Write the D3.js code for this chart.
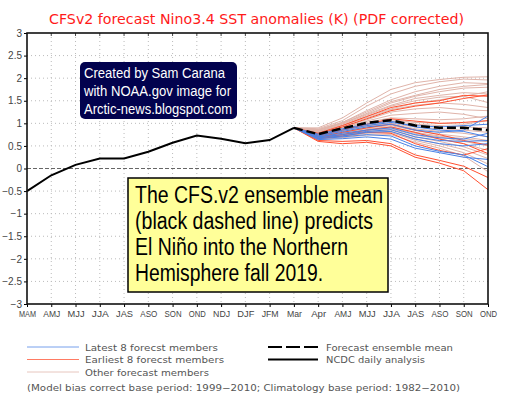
<!DOCTYPE html>
<html>
<head>
<meta charset="utf-8">
<script src="https://cdn.jsdelivr.net/npm/d3@7"></script>
<style>
  body { margin: 0; background: #fff; }
  svg { display: block; }
  text { font-family: "DejaVu Sans", "Liberation Sans", sans-serif; }
</style>
</head>
<body>
<div id="chart"></div>
<script>
// season labels along the bottom axis
var seasons = ["MAM", "AMJ", "MJJ", "JJA", "JAS", "ASO", "SON", "OND", "NDJ", "DJF",
               "JFM", "Mar", "Apr", "AMJ", "MJJ", "JJA", "JAS", "ASO", "SON", "OND"];
var yTicks = [-3, -2.5, -2, -1.5, -1, -0.5, 0, 0.5, 1, 1.5, 2, 2.5, 3];

// NCDC daily analysis, MAM .. Mar
var observed = [-0.5, -0.15, 0.08, 0.22, 0.22, 0.37, 0.57, 0.73, 0.66, 0.56, 0.63, 0.9];

// forecast values Apr .. OND (start from last observed)
var ensembleMean = [0.76, 0.89, 1.01, 1.07, 0.95, 0.9, 0.9, 0.85];

var latestMembers = [
  [0.72, 0.82, 0.92, 0.98, 0.85, 0.80, 0.85, 1.16],
  [0.70, 0.78, 0.85, 0.90, 0.75, 0.68, 0.65, 0.78],
  [0.68, 0.72, 0.80, 0.82, 0.65, 0.55, 0.50, 0.55],
  [0.66, 0.70, 0.75, 0.72, 0.50, 0.38, 0.30, 0.04],
  [0.74, 0.85, 0.95, 1.02, 0.95, 0.92, 0.95, 0.98],
  [0.64, 0.66, 0.70, 0.65, 0.45, 0.35, 0.25, 0.20],
  [0.70, 0.75, 0.82, 0.86, 0.70, 0.62, 0.60, 0.62],
  [0.76, 0.88, 0.98, 1.05, 0.92, 0.85, 0.82, 0.70]
];

var earliestMembers = [
  [0.78, 0.95, 1.15, 1.35, 1.45, 1.50, 1.62, 1.60],
  [0.76, 0.92, 1.10, 1.28, 1.38, 1.45, 1.55, 1.63],
  [0.62, 0.60, 0.62, 0.55, 0.30, 0.18, 0.05, -0.20],
  [0.60, 0.55, 0.58, 0.50, 0.25, 0.12, -0.05, -0.47],
  [0.66, 0.72, 0.80, 0.78, 0.55, 0.40, 0.30, 0.44],
  [0.68, 0.75, 0.85, 0.92, 0.80, 0.65, 0.55, 0.33],
  [0.72, 0.85, 0.98, 1.10, 1.05, 1.00, 1.02, 1.06],
  [0.70, 0.80, 0.90, 0.98, 0.85, 0.75, 0.62, 0.52]
];

var otherMembers = [
  [0.90, 1.12, 1.45, 1.75, 1.90, 1.97, 2.02, 2.03],
  [0.88, 1.06, 1.38, 1.65, 1.82, 1.92, 1.98, 1.96],
  [0.86, 1.02, 1.28, 1.52, 1.70, 1.82, 1.90, 1.88],
  [0.84, 1.00, 1.22, 1.45, 1.60, 1.70, 1.78, 1.80],
  [0.82, 0.98, 1.18, 1.38, 1.50, 1.58, 1.60, 1.46],
  [0.80, 0.95, 1.12, 1.30, 1.40, 1.45, 1.42, 1.35],
  [0.80, 0.92, 1.08, 1.25, 1.32, 1.35, 1.30, 1.28],
  [0.78, 0.90, 1.05, 1.18, 1.22, 1.25, 1.20, 1.10],
  [0.78, 0.88, 1.02, 1.12, 1.10, 1.08, 1.10, 1.16],
  [0.76, 0.86, 0.98, 1.08, 1.02, 1.00, 0.98, 1.06],
  [0.76, 0.85, 0.95, 1.05, 0.98, 0.95, 0.92, 0.90],
  [0.74, 0.84, 0.94, 1.00, 0.92, 0.88, 0.85, 0.80],
  [0.74, 0.82, 0.92, 0.98, 0.88, 0.82, 0.78, 0.70],
  [0.72, 0.80, 0.90, 0.95, 0.84, 0.76, 0.70, 0.62],
  [0.72, 0.80, 0.88, 0.92, 0.80, 0.72, 0.66, 0.59],
  [0.70, 0.78, 0.86, 0.90, 0.78, 0.70, 0.60, 0.50],
  [0.70, 0.76, 0.84, 0.88, 0.74, 0.66, 0.55, 0.40],
  [0.68, 0.74, 0.82, 0.85, 0.70, 0.60, 0.48, 0.30],
  [0.68, 0.72, 0.80, 0.82, 0.66, 0.55, 0.42, 0.22],
  [0.66, 0.70, 0.78, 0.80, 0.62, 0.50, 0.35, 0.10],
  [0.64, 0.68, 0.74, 0.75, 0.58, 0.45, 0.28, -0.07],
  [0.82, 0.96, 1.15, 1.32, 1.45, 1.52, 1.60, 1.70],
  [0.84, 1.00, 1.20, 1.40, 1.55, 1.62, 1.68, 1.65],
  [0.86, 1.02, 1.25, 1.48, 1.62, 1.75, 1.82, 1.86]
];

var colors = { latest: "#4a82e6", earliest: "#ff5030", other: "#e0b4aa" };

var width = 509, height = 399;
var svg = d3.select("#chart").append("svg")
    .attr("width", width)
    .attr("height", height);

var x = d3.scaleLinear().domain([0, seasons.length - 1]).range([27, 488]);
var y = d3.scaleLinear().domain([-3, 3]).range([304, 33]);

// title
svg.append("text")
    .attr("x", 49).attr("y", 24)
    .attr("textLength", 415).attr("lengthAdjust", "spacingAndGlyphs")
    .style("font-size", "14px").style("fill", "#ff1a1a")
    .text("CFSv2 forecast Nino3.4 SST anomalies (K) (PDF corrected)");

// grid
var grid = svg.append("g");
grid.selectAll("line.gx")
    .data(d3.range(1, seasons.length - 1))
    .join("line")
    .attr("x1", d => x(d)).attr("x2", d => x(d))
    .attr("y1", y(3)).attr("y2", y(-3))
    .attr("stroke", "#bbb").attr("stroke-dasharray", "1,3");
grid.selectAll("line.gy")
    .data(yTicks.filter(d => d !== 0 && Math.abs(d) !== 3))
    .join("line")
    .attr("x1", x(0)).attr("x2", x(seasons.length - 1))
    .attr("y1", d => y(d)).attr("y2", d => y(d))
    .attr("stroke", "#bbb").attr("stroke-dasharray", "1,3");
grid.append("line")
    .attr("x1", x(0)).attr("x2", x(seasons.length - 1))
    .attr("y1", y(0)).attr("y2", y(0))
    .attr("stroke", "#666").attr("stroke-dasharray", "4,2");

// axes
var yAxis = d3.axisLeft(y).tickValues(yTicks).tickSize(3).tickPadding(2)
    .tickFormat(d => d3.format("")(d).replace("-", "\u2212"));
var gy = svg.append("g").attr("transform", `translate(${x(0)},0)`).call(yAxis);
gy.select(".domain").remove();
gy.selectAll("text")
    .style("font-family", "'Liberation Sans', Arial, sans-serif")
    .style("font-size", "10px").style("fill", "#444");

var xAxis = d3.axisBottom(x).tickValues(d3.range(seasons.length)).tickSize(3)
    .tickFormat(i => seasons[i]);
var gx = svg.append("g").attr("transform", `translate(0,${y(-3)})`).call(xAxis);
gx.select(".domain").remove();
gx.selectAll("text")
    .style("font-family", "'Liberation Sans', Arial, sans-serif")
    .style("font-size", "9.5px").style("fill", "#444")
    .attr("textLength", i => seasons[i] === seasons[i].toUpperCase() ? 17 : 15)
    .attr("lengthAdjust", "spacingAndGlyphs");

// top ticks
svg.append("g").selectAll("line")
    .data(d3.range(1, seasons.length - 1))
    .join("line")
    .attr("x1", d => x(d)).attr("x2", d => x(d))
    .attr("y1", y(3)).attr("y2", y(3) + 3)
    .attr("stroke", "#444");

// forecast members
var start = observed.length - 1;
var memberLine = d3.line()
    .x((d, i) => x(start + i))
    .y(d => y(d));
function withStart(arr) { return [observed[start]].concat(arr); }

var members = svg.append("g").attr("fill", "none").attr("stroke-width", 1);
members.selectAll("path.other").data(otherMembers).join("path")
    .attr("class", "other").attr("d", d => memberLine(withStart(d))).attr("stroke", colors.other);
members.selectAll("path.earliest").data(earliestMembers).join("path")
    .attr("class", "earliest").attr("d", d => memberLine(withStart(d))).attr("stroke", colors.earliest);
members.selectAll("path.latest").data(latestMembers).join("path")
    .attr("class", "latest").attr("d", d => memberLine(withStart(d))).attr("stroke", colors.latest);

svg.append("path")
    .attr("d", memberLine(withStart(ensembleMean)))
    .attr("fill", "none").attr("stroke", "#000").attr("stroke-width", 2.5)
    .attr("stroke-dasharray", "9,4");

svg.append("path")
    .attr("d", d3.line().x((d, i) => x(i)).y(d => y(d))(observed))
    .attr("fill", "none").attr("stroke", "#000").attr("stroke-width", 2);

// frame
svg.append("rect")
    .attr("x", x(0)).attr("y", y(3))
    .attr("width", x(seasons.length - 1) - x(0)).attr("height", y(-3) - y(3))
    .attr("fill", "none").attr("stroke", "#111").attr("stroke-width", 1.6);

// credit box
svg.append("rect")
    .attr("x", 80).attr("y", 62).attr("width", 157).attr("height", 57).attr("rx", 5)
    .attr("fill", "#02024e");
var credit = ["Created by Sam Carana", "with NOAA.gov image for", "Arctic-news.blogspot.com"];
var creditLen = [141, 147, 148];
svg.append("g").selectAll("text").data(credit).join("text")
    .attr("x", 84).attr("y", (d, i) => 78 + i * 18)
    .attr("textLength", (d, i) => creditLen[i]).attr("lengthAdjust", "spacingAndGlyphs")
    .style("font-family", "'Liberation Sans', Arial, sans-serif")
    .style("font-size", "15.5px").style("fill", "#fff")
    .text(d => d);

// note box
svg.append("rect")
    .attr("x", 128).attr("y", 178).attr("width", 260).attr("height", 114)
    .attr("fill", "#ffff99").attr("stroke", "#000").attr("stroke-width", 1.5);
var note = ["The CFS.v2 ensemble mean", "(black dashed line) predicts",
            "El Niño into the Northern", "Hemisphere fall 2019."];
var noteLen = [248, 238, 213, 188];
svg.append("g").selectAll("text").data(note).join("text")
    .attr("x", 135).attr("y", (d, i) => 203 + i * 26)
    .attr("textLength", (d, i) => noteLen[i]).attr("lengthAdjust", "spacingAndGlyphs")
    .style("font-family", "'Liberation Sans', Arial, sans-serif")
    .style("font-size", "23px").style("fill", "#000")
    .text(d => d);

// legend
var legendLeft = [
  { label: "Latest 8 forecst members", color: colors.latest, len: 133 },
  { label: "Earliest 8 forecst members", color: colors.earliest, len: 139 },
  { label: "Other forecast members", color: colors.other, len: 124 }
];
var lg = svg.append("g");
lg.selectAll("line").data(legendLeft).join("line")
    .attr("x1", 27).attr("x2", 79)
    .attr("y1", (d, i) => 347 + i * 12.5).attr("y2", (d, i) => 347 + i * 12.5)
    .attr("stroke", d => d.color).attr("stroke-width", 1).attr("opacity", 0.75);
lg.selectAll("text").data(legendLeft).join("text")
    .attr("x", 85).attr("y", (d, i) => 350.5 + i * 12.5)
    .attr("textLength", d => d.len).attr("lengthAdjust", "spacingAndGlyphs")
    .style("font-size", "9px").style("fill", "#555")
    .text(d => d.label);

var legendRight = [
  { label: "Forecast ensemble mean", dash: "14,4", len: 127 },
  { label: "NCDC daily analysis", dash: null, len: 99 }
];
var rg = svg.append("g");
rg.selectAll("line").data(legendRight).join("line")
    .attr("x1", 268).attr("x2", 318)
    .attr("y1", (d, i) => 347 + i * 12.5).attr("y2", (d, i) => 347 + i * 12.5)
    .attr("stroke", "#000").attr("stroke-width", 2)
    .attr("stroke-dasharray", d => d.dash);
rg.selectAll("text").data(legendRight).join("text")
    .attr("x", 326).attr("y", (d, i) => 350.5 + i * 12.5)
    .attr("textLength", d => d.len).attr("lengthAdjust", "spacingAndGlyphs")
    .style("font-size", "9px").style("fill", "#555")
    .text(d => d.label);

svg.append("text")
    .attr("x", 27).attr("y", 390.5)
    .attr("textLength", 433).attr("lengthAdjust", "spacingAndGlyphs")
    .style("font-size", "9px").style("fill", "#555")
    .text("(Model bias correct base period: 1999\u22122010; Climatology base period: 1982\u22122010)");
</script>
</body>
</html>
